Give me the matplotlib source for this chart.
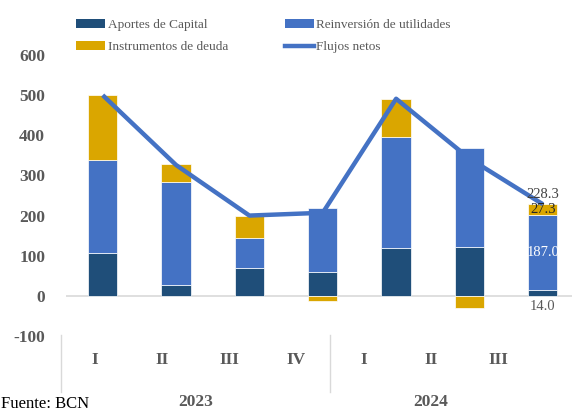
import matplotlib
matplotlib.use("Agg")
import matplotlib.pyplot as plt
from matplotlib.patches import Patch
from matplotlib.lines import Line2D
import numpy as np

quarters = ["I", "II", "III", "IV", "I", "II", "III"]
years = ["2023", "2024"]
year_sizes = [4, 3]
aportes = [108, 26, 69, 60, 118, 121, 14.0]
reinversion = [230, 258, 74, 160, 277, 247, 187.0]
deuda = [162, 44, 57, -13, 96, -31, 27.3]
flujos = [500, 326, 200, 207, 491, 342, 228.3]

C_AP = "#1F4E79"
C_RE = "#4472C4"
C_DE = "#DAA600"
GRAY = "#595959"
SERIF = ["Liberation Serif", "DejaVu Serif"]

plt.rcParams["font.family"] = SERIF
plt.rcParams["axes.unicode_minus"] = False

W, H = 572, 411
fig = plt.figure(figsize=(W / 100, H / 100), dpi=100)
ax = fig.add_axes([66 / W, (H - 336) / H, 513.5 / W, 281 / H])

x = np.arange(len(quarters))
ap = np.array(aportes, float)
re = np.array(reinversion, float)
de = np.array(deuda, float)
bw = 0.4
ek = dict(edgecolor="white", linewidth=0.5, zorder=2)
ax.bar(x, ap, bw, color=C_AP, **ek)
ax.bar(x, re, bw, bottom=ap, color=C_RE, **ek)
pos_bottom = np.where(de >= 0, ap + re, 0)
ax.bar(x, de, bw, bottom=pos_bottom, color=C_DE, **ek)
ax.plot(x, flujos, color=C_RE, lw=3.2, zorder=3, solid_capstyle="butt")

ax.axhline(0, color="#D9D9D9", lw=1.2, zorder=1)
ax.set_xlim(-0.5, len(quarters) - 0.5)
ax.set_ylim(-100, 600)
ax.set_yticks(np.arange(-100, 601, 100))
ax.tick_params(axis="y", length=0, pad=15, labelsize=12.5, labelcolor=GRAY)
for t in ax.get_yticklabels():
    t.set_fontweight("bold")
ax.set_xticks([])
for s in ax.spines.values():
    s.set_visible(False)

# labels on the last bar
i = len(quarters) - 1
ax.text(x[i], flujos[i] + 7, f"{flujos[i]:.1f}", ha="center", va="bottom", fontsize=10.5, color="#404040", zorder=4)
ax.text(x[i], ap[i] + re[i] + de[i] / 2, f"{de[i]:.1f}", ha="center", va="center", fontsize=10.5, color="#262626", zorder=4)
ax.text(x[i], ap[i] + re[i] / 2, f"{re[i]:.1f}", ha="center", va="center", fontsize=10.5, color="white", zorder=4)
ax.text(x[i], -27, f"{ap[i]:.1f}", ha="center", va="center", fontsize=10.5, color=GRAY, zorder=4)

# two-level category axis
lab = fig.add_axes([61 / W, (H - 392) / H, 471 / W, 57 / H])
lab.set_xlim(-0.5, len(quarters) - 0.5)
lab.set_ylim(0, 1)
lab.axis("off")
for j, q in enumerate(quarters):
    lab.text(j, 0.56, q, ha="center", va="center", fontsize=12.5, fontweight="bold", color=GRAY)
start = -0.5
for y, n in zip(years, year_sizes):
    lab.plot([start, start], [0, 1], color="#D9D9D9", lw=1, clip_on=False)
    lab.text(start + n / 2, -0.17, y, ha="center", va="center", fontsize=12.5, fontweight="bold", color=GRAY, clip_on=False)
    start += n

handles = [
    Patch(facecolor=C_AP, edgecolor="none"),
    Patch(facecolor=C_DE, edgecolor="none"),
    Patch(facecolor=C_RE, edgecolor="none"),
    Line2D([0], [0], color=C_RE, lw=3.2),
]
names = ["Aportes de Capital", "Instrumentos de deuda", "Reinversión de utilidades", "Flujos netos"]
leg = fig.legend(handles, names, ncol=2, loc="upper left", bbox_to_anchor=(64 / W, 1 - 7 / H),
                 frameon=False, fontsize=9.5, handlelength=2.2, handletextpad=0.2,
                 columnspacing=4.3, labelspacing=0.75)
for t in leg.get_texts():
    t.set_color(GRAY)

fig.text(1 / W, 1 - 396 / H, "Fuente: BCN", fontsize=12, color="black", ha="left", va="top")

fig.savefig("out.png", dpi=100)
